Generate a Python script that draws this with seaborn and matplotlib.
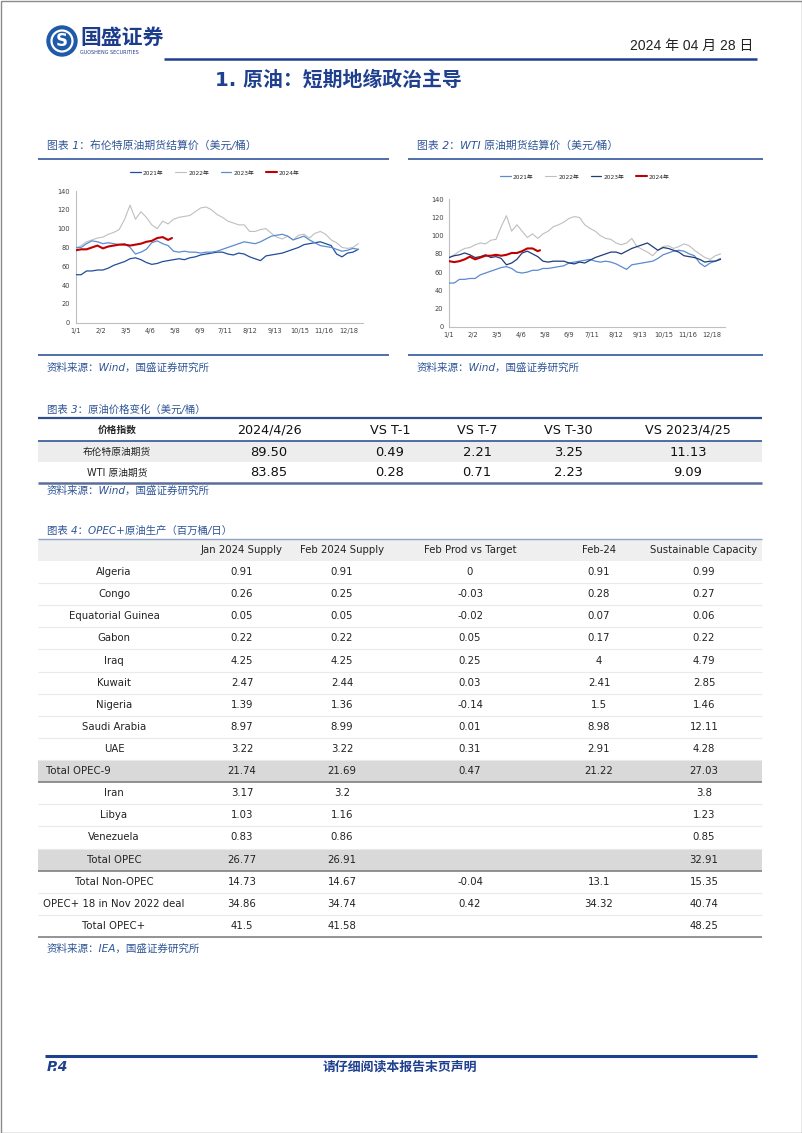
import matplotlib
matplotlib.use('Agg')
import matplotlib.pyplot as plt
from matplotlib import font_manager
from matplotlib.patches import Circle, Rectangle
import seaborn as sns

# ---------------- data ----------------
# weekly sample points (day of year on the chart's date axis)
DAYS = [0, 7, 14, 21, 28, 35, 42, 49, 56, 63, 70, 77, 84, 91, 98, 105, 112, 119,
        126, 133, 140, 147, 154, 161, 168, 175, 182, 189, 196, 203, 210, 217, 224,
        231, 238, 245, 252, 259, 266, 273, 280, 287, 294, 301, 308, 315, 322, 329,
        336, 343, 350, 357, 364]
DAYS_2024_BRENT = [0, 7, 14, 21, 28, 35, 42, 49, 56, 63, 70, 77, 84, 91, 98, 105, 112, 119, 124]
DAYS_2024_WTI = [0, 7, 14, 21, 28, 35, 42, 49, 56, 63, 70, 77, 84, 91, 98, 105, 112, 119, 122]

BRENT_2021 = [51, 51, 55, 55, 56, 56, 58, 61, 63, 65, 68, 69, 67, 64, 62, 63, 65, 66,
              67, 68, 67, 69, 70, 72, 73, 74, 75, 75, 73, 72, 74, 73, 70, 68, 66, 71,
              72, 73, 74, 76, 78, 80, 83, 84, 85, 86, 84, 82, 73, 70, 74, 75, 78]
BRENT_2022 = [78, 82, 86, 88, 90, 91, 94, 96, 99, 110, 125, 110, 118, 112, 104, 100, 108, 105,
              110, 112, 113, 114, 118, 122, 123, 120, 115, 112, 108, 106, 104, 104, 97, 97, 99, 100,
              95, 91, 89, 92, 88, 93, 94, 90, 95, 97, 94, 88, 85, 80, 79, 80, 84]
BRENT_2023 = [80, 80, 84, 87, 86, 84, 85, 84, 83, 84, 80, 73, 75, 78, 85, 87, 84, 82,
              76, 75, 76, 75, 75, 74, 75, 75, 76, 78, 80, 82, 84, 86, 85, 84, 86, 89,
              92, 93, 94, 92, 88, 90, 92, 88, 85, 82, 81, 80, 78, 76, 77, 79, 78]
BRENT_2024 = [77, 78, 78, 80, 82, 79, 81, 82, 83, 83, 82, 83, 84, 86, 87, 90, 91, 88, 90]

WTI_2021 = [48, 48, 52, 52, 53, 53, 57, 59, 61, 63, 65, 66, 64, 60, 59, 60, 62, 62,
            64, 64, 65, 66, 67, 70, 71, 72, 73, 74, 72, 71, 72, 71, 69, 66, 63, 68,
            69, 70, 71, 72, 75, 79, 81, 83, 84, 83, 80, 78, 70, 66, 70, 72, 75]
WTI_2022 = [76, 79, 83, 86, 87, 90, 92, 91, 95, 96, 110, 122, 105, 112, 105, 98, 102, 97,
            102, 105, 110, 112, 115, 119, 121, 120, 112, 108, 105, 100, 97, 96, 92, 90, 92, 97,
            88, 85, 82, 78, 84, 88, 89, 86, 88, 91, 89, 84, 80, 76, 74, 78, 80]
WTI_2023 = [76, 78, 79, 81, 79, 76, 77, 79, 76, 77, 75, 68, 70, 74, 81, 83, 80, 77,
            72, 71, 72, 72, 72, 70, 69, 71, 70, 73, 76, 78, 80, 82, 82, 80, 83, 86,
            88, 90, 92, 88, 84, 87, 86, 84, 82, 78, 77, 76, 74, 71, 72, 72, 74]
WTI_2024 = [72, 71, 72, 74, 77, 74, 76, 78, 78, 79, 78, 79, 81, 81, 83, 86, 86, 83, 84]

YEARS = ['2021年', '2022年', '2023年', '2024年']
TICK_LABELS = ['1/1', '2/2', '3/5', '4/6', '5/8', '6/9', '7/11', '8/12', '9/13',
               '10/15', '11/16', '12/18']

# table 3
T3_HEADER = ['价格指数', '2024/4/26', 'VS T-1', 'VS T-7', 'VS T-30', 'VS 2023/4/25']
T3_NAMES = ['布伦特原油期货', 'WTI 原油期货']
T3_LAST = [89.50, 83.85]
T3_T1 = [0.49, 0.28]
T3_T7 = [2.21, 0.71]
T3_T30 = [3.25, 2.23]
T3_YOY = [11.13, 9.09]

# table 4
T4_HEADER = ['', 'Jan 2024 Supply', 'Feb 2024 Supply', 'Feb Prod vs Target', 'Feb-24',
             'Sustainable Capacity']
T4_NAMES = ['Algeria', 'Congo', 'Equatorial Guinea', 'Gabon', 'Iraq', 'Kuwait', 'Nigeria',
            'Saudi Arabia', 'UAE', 'Total OPEC-9', 'Iran', 'Libya', 'Venezuela', 'Total OPEC',
            'Total Non-OPEC', 'OPEC+ 18 in Nov 2022 deal', 'Total OPEC+']
JAN_SUPPLY = [0.91, 0.26, 0.05, 0.22, 4.25, 2.47, 1.39, 8.97, 3.22, 21.74, 3.17, 1.03, 0.83,
              26.77, 14.73, 34.86, 41.5]
FEB_SUPPLY = [0.91, 0.25, 0.05, 0.22, 4.25, 2.44, 1.36, 8.99, 3.22, 21.69, 3.2, 1.16, 0.86,
              26.91, 14.67, 34.74, 41.58]
VS_TARGET = [0, -0.03, -0.02, 0.05, 0.25, 0.03, -0.14, 0.01, 0.31, 0.47, None, None, None,
             None, -0.04, 0.42, None]
FEB_24 = [0.91, 0.28, 0.07, 0.17, 4, 2.41, 1.5, 8.98, 2.91, 21.22, None, None, None,
          None, 13.1, 34.32, None]
CAPACITY = [0.99, 0.27, 0.06, 0.22, 4.79, 2.85, 1.46, 12.11, 4.28, 27.03, 3.8, 1.23, 0.85,
            32.91, 15.35, 40.74, 48.25]

# ---------------- style ----------------
sns.set_theme(style='white')
plt.rcParams['font.family'] = ['DejaVu Sans', 'Noto Sans CJK SC']
installed = {f.name for f in font_manager.fontManager.ttflist}
NARROW = 'Liberation Sans Narrow' if 'Liberation Sans Narrow' in installed else 'Liberation Sans'

NAVY = '#1F3F8F'
CAP_BLUE = '#2F5597'
RULE_BLUE = '#4F6EA8'

W, H = 802, 1133
fig = plt.figure(figsize=(W / 100, H / 100), dpi=100)
page = fig.add_axes([0, 0, 1, 1])
page.set_xlim(0, W)
page.set_ylim(H, 0)
page.axis('off')


def rect(l, t, r, b):
    return [l / W, 1 - b / H, (r - l) / W, (b - t) / H]


# ---------------- header ----------------
page.add_patch(Rectangle((0.5, 0.5), W - 1, H - 1, fill=False, ec='#8a8a8a', lw=1))
page.add_patch(Circle((62, 41), 15, color='#1E5AA8'))
page.add_patch(Circle((62, 41), 10.5, fill=False, ec='white', lw=1.6))
page.text(62, 41.5, 'S', color='white', fontsize=12, fontweight='bold', ha='center', va='center')
page.text(80, 38, '国盛证券', color='#1E3C8C', fontsize=15, fontweight='bold', va='center')
page.text(80, 53, 'GUOSHENG SECURITIES', color='#1E3C8C', fontsize=3.5, va='center')
page.hlines(59, 164, 757, color=NAVY, lw=1.8)
page.text(753, 46, '2024 年 04 月 28 日', family=[NARROW, 'Noto Sans CJK SC'],
          fontsize=10, ha='right', va='center', color='#222222')
page.text(215, 80, '1. 原油：短期地缘政治主导', color=NAVY, fontsize=14.3,
          fontweight='bold', va='center')


# ---------------- line charts ----------------
def draw_chart(box, series, colors, caption, cap_left, rule_span, legend_at):
    page.text(cap_left, 146, caption, color=CAP_BLUE, fontsize=7.8, style='italic', va='center')
    page.hlines([159, 355], rule_span[0], rule_span[1], color=RULE_BLUE, lw=1.4)
    page.text(cap_left, 368, '资料来源：Wind，国盛证券研究所', color=CAP_BLUE, fontsize=7.6,
              style='italic', va='center')

    ax = fig.add_axes(rect(*box))
    widths = {'2021年': 0.9, '2022年': 0.8, '2023年': 0.9, '2024年': 1.5}
    zorders = {'2021年': 3, '2022年': 2, '2023年': 3, '2024年': 4}
    for name in YEARS:
        xs, ys = series[name]
        sns.lineplot(x=xs, y=ys, ax=ax, color=colors[name], linewidth=widths[name],
                     label=name, legend=False, zorder=zorders[name])
    ax.set_xlim(0, 370)
    ax.set_ylim(0, 140)
    ax.set_xticks([32 * i for i in range(len(TICK_LABELS))])
    ax.set_xticklabels(TICK_LABELS)
    ax.set_yticks(range(0, 141, 20))
    ax.tick_params(labelsize=4.8, colors='#404040', length=2, width=0.5, pad=2)
    ax.tick_params(color='#BFBFBF')
    for side in ['top', 'right']:
        ax.spines[side].set_visible(False)
    for side in ['left', 'bottom']:
        ax.spines[side].set_color('#BFBFBF')
        ax.spines[side].set_linewidth(0.8)
    ax.set_xlabel('')
    ax.set_ylabel('')
    ax.grid(False)
    handles, labels = ax.get_legend_handles_labels()
    fig.legend(handles, labels, loc='center', ncol=4, frameon=False, fontsize=4.2,
               bbox_to_anchor=(legend_at[0] / W, 1 - legend_at[1] / H),
               handlelength=1.8, handletextpad=0.4, columnspacing=2.0)


draw_chart((75.7, 191, 363, 322.7),
           {'2021年': (DAYS, BRENT_2021), '2022年': (DAYS, BRENT_2022),
            '2023年': (DAYS, BRENT_2023), '2024年': (DAYS_2024_BRENT, BRENT_2024)},
           {'2021年': '#1F4E9C', '2022年': '#BFBFBF', '2023年': '#5B8BD0', '2024年': '#C00000'},
           '图表 1：布伦特原油期货结算价（美元/桶）', 47, (38, 389), (215, 173))

draw_chart((449, 199.3, 725, 326.7),
           {'2021年': (DAYS, WTI_2021), '2022年': (DAYS, WTI_2022),
            '2023年': (DAYS, WTI_2023), '2024年': (DAYS_2024_WTI, WTI_2024)},
           {'2021年': '#5B8BD0', '2022年': '#BFBFBF', '2023年': '#1F3C7A', '2024年': '#C00000'},
           '图表 2：WTI 原油期货结算价（美元/桶）', 417, (408, 763), (585, 177))

# ---------------- table 3 ----------------
L, R = 38, 762
page.text(47, 410, '图表 3：原油价格变化（美元/桶）', color=CAP_BLUE, fontsize=7.5,
          style='italic', va='center')
page.hlines(418, L, R, color='#2F4F8F', lw=1.6)
page.add_patch(Rectangle((L, 441), R - L, 21, color='#EDEDED', lw=0))
page.hlines(441, L, R, color='#2F5597', lw=1.2)
page.hlines(483, L, R, color='#5A6E99', lw=1.8)
t3_x = [117, 269, 390, 477, 568, 688]
for x, label in zip(t3_x, T3_HEADER):
    if label == '价格指数':
        page.text(x, 430, label, fontsize=7, fontweight='bold', ha='center', va='center')
    else:
        page.text(x, 430, label, fontsize=9.2, ha='center', va='center', color='#111111')
for i, name in enumerate(T3_NAMES):
    y = 452 + 21 * i
    page.text(t3_x[0], y, name, fontsize=7, ha='center', va='center', color='#222222')
    cells = [T3_LAST[i], T3_T1[i], T3_T7[i], T3_T30[i], T3_YOY[i]]
    for x, v in zip(t3_x[1:], cells):
        page.text(x, y, f'{v:.2f}', fontsize=9.4, ha='center', va='center', color='#111111')
page.text(47, 491, '资料来源：Wind，国盛证券研究所', color=CAP_BLUE, fontsize=7.6,
          style='italic', va='center')

# ---------------- table 4 ----------------
page.text(47, 531, '图表 4：OPEC+原油生产（百万桶/日）', color=CAP_BLUE, fontsize=7.5,
          style='italic', va='center')
page.hlines(539, L, R, color='#8EA3C8', lw=1.0)
page.add_patch(Rectangle((L, 540), R - L, 21, color='#EFEFEF', lw=0))
t4_x = [114, 242, 342, 470, 599, 704]
FS4 = 7.3
for x, label in zip(t4_x, T4_HEADER):
    page.text(x, 550, label, fontsize=FS4, ha='center', va='center', color='#222222')

ROW_H = 22.125
for i, name in enumerate(T4_NAMES):
    y = 572 + ROW_H * i
    top, bottom = y - ROW_H / 2, y + ROW_H / 2
    if name in ('Total OPEC-9', 'Total OPEC'):
        page.add_patch(Rectangle((L, top), R - L, ROW_H, color='#D9D9D9', lw=0))
        page.hlines(bottom, L, R, color='#808080', lw=1.2)
    else:
        page.hlines(bottom, L, R, color='#EAEAEA', lw=0.8)
    if name == 'Total OPEC-9':
        page.text(46, y, name, fontsize=FS4, ha='left', va='center', color='#222222')
    else:
        page.text(t4_x[0], y, name, fontsize=FS4, ha='center', va='center', color='#222222')
    cells = [JAN_SUPPLY[i], FEB_SUPPLY[i], VS_TARGET[i], FEB_24[i], CAPACITY[i]]
    for x, v in zip(t4_x[1:], cells):
        if v is not None:
            page.text(x, y, f'{v:g}', fontsize=FS4, ha='center', va='center', color='#222222')
page.hlines(572 + ROW_H * (len(T4_NAMES) - 0.5), L, R, color='#8C8C8C', lw=1.3)
page.text(47, 949, '资料来源：IEA，国盛证券研究所', color=CAP_BLUE, fontsize=7.6,
          style='italic', va='center')

# ---------------- footer ----------------
page.hlines(1056, 45, 757, color=NAVY, lw=2.2)
page.text(47, 1067, 'P.4', color=NAVY, fontsize=10, fontweight='bold', style='italic', va='center')
page.text(400, 1067, '请仔细阅读本报告末页声明', color=NAVY, fontsize=9.3, fontweight='bold',
          ha='center', va='center')

fig.savefig('out.png', dpi=100)
